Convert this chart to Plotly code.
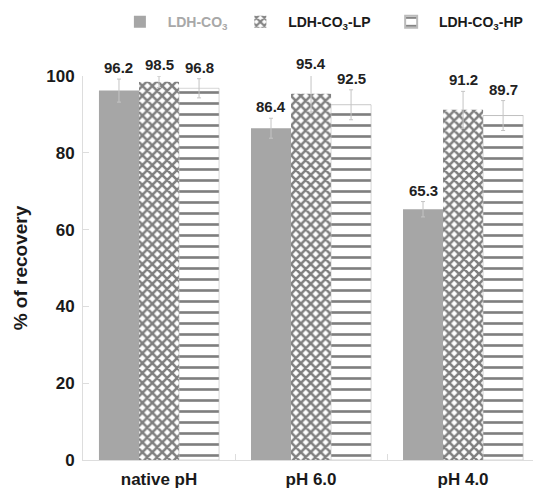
import plotly.graph_objects as go

categories = ["native pH", "pH 6.0", "pH 4.0"]
series_names = ["LDH-CO<sub>3</sub>", "LDH-CO<sub>3</sub>-LP", "LDH-CO<sub>3</sub>-HP"]
ldh_co3 = [96.2, 86.4, 65.3]
ldh_co3_lp = [98.5, 95.4, 91.2]
ldh_co3_hp = [96.8, 92.5, 89.7]
err_co3 = [3.0, 2.6, 2.0]
err_lp = [1.5, 4.8, 4.8]
err_hp = [2.5, 3.9, 3.9]
y_ticks = [0, 20, 40, 60, 80, 100]

FONT = "Liberation Sans, Arial, sans-serif"
W, H = 533, 492
M = dict(l=83, r=0, t=76, b=32)
Y_RANGE = [0, 100]
px_per_unit = (H - M["t"] - M["b"]) / (Y_RANGE[1] - Y_RANGE[0])
bargap = 0.21
bw = (1 - bargap) / 3

fig = go.Figure()
values = [ldh_co3, ldh_co3_lp, ldh_co3_hp]
errors = [err_co3, err_lp, err_hp]
styles = [
    dict(color="#a6a6a6", line=dict(color="#555555", width=0)),
    dict(color="white", line=dict(color="#222222", width=0),
         pattern=dict(shape="x", fgcolor="#000000", bgcolor="white", size=7, solidity=0.6)),
    dict(color="white", line=dict(color="#bbbbbb", width=0.6),
         pattern=dict(shape="-", fgcolor="#000000", bgcolor="white", size=11, solidity=0.24)),
]
NB = "&nbsp;"
legend_names = [NB * 2 + "<span style='color:#a8a8a8'>" + series_names[0] + "</span>" + NB * 2,
                NB * 2 + series_names[1] + NB * 4,
                NB * 2 + series_names[2]]
for j in range(3):
    fig.add_trace(go.Bar(
        x=categories, y=values[j], name=legend_names[j], marker=styles[j],
        error_y=dict(type="data", array=errors[j], color="#c4c4c4", thickness=1, width=2),
    ))
    for i in range(3):
        fig.add_annotation(
            x=i + (j - 1) * bw, y=values[j][i],
            text=f"<b>{values[j][i]:.1f}</b>", showarrow=False,
            yanchor="bottom", yshift=errors[j][i] * px_per_unit + 1,
            font=dict(family=FONT, size=15, color="#222222"),
        )

fig.update_layout(
    width=W, height=H,
    margin=M,
    plot_bgcolor="white", paper_bgcolor="white",
    barmode="group", bargap=bargap, bargroupgap=0,
    font=dict(family=FONT, size=14, color="#1a1a1a"),
    showlegend=True,
    legend=dict(orientation="h", x=0.082, xanchor="left", y=1.14, yanchor="middle",
                font=dict(family=FONT, size=14, color="#1a1a1a", weight="bold"),
                itemsizing="constant", traceorder="normal"),
    xaxis=dict(range=[-0.5, 2.46], showline=True, linecolor="#dddddd", linewidth=1,
               ticks="inside", tickson="boundaries", tickcolor="#dddddd", ticklen=6,
               ticklabelstandoff=4, automargin=False,
               tickfont=dict(family=FONT, size=17, color="#1a1a1a", weight="bold"),
               showgrid=False, zeroline=False),
    yaxis=dict(range=Y_RANGE, tickvals=y_ticks, showline=True, linecolor="#dddddd",
               linewidth=1, ticks="inside", tickcolor="#dddddd", ticklen=6,
               ticklabelstandoff=4,
               tickfont=dict(family=FONT, size=17, color="#1a1a1a", weight="bold"),
               showgrid=False, zeroline=False,
               title=dict(text="<b>% of recovery</b>", font=dict(family=FONT, size=19, color="#1a1a1a"),
                          standoff=13)),
)
for tr in fig.data:
    tr.cliponaxis = False

fig.write_html("out.html")
